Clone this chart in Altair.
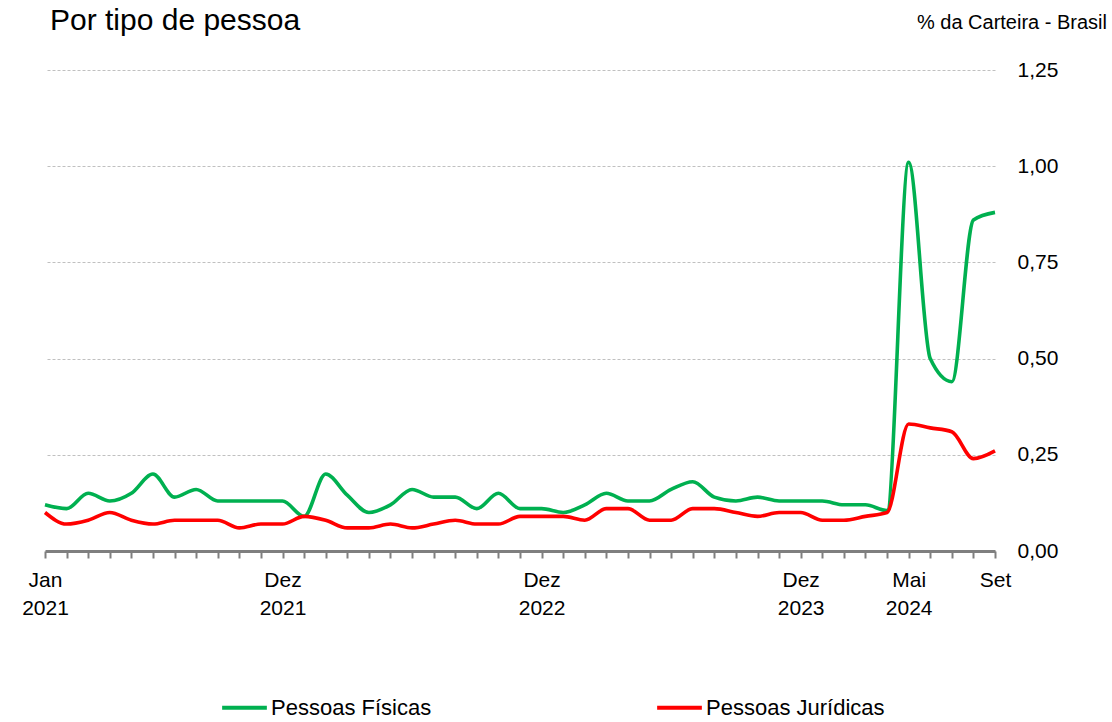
import altair as alt
import pandas as pd

# --- data -------------------------------------------------------------
pf = [0.12, 0.11, 0.15, 0.13, 0.15, 0.20, 0.14, 0.16, 0.13, 0.13, 0.13, 0.13,
      0.09, 0.20, 0.145, 0.10, 0.12, 0.16, 0.14, 0.14, 0.11, 0.15, 0.11, 0.11,
      0.10, 0.12, 0.15, 0.13, 0.13, 0.16, 0.18, 0.14, 0.13, 0.14, 0.13, 0.13,
      0.13, 0.12, 0.12, 0.105, 1.01, 0.50, 0.44, 0.86, 0.88]
pj = [0.10, 0.07, 0.08, 0.10, 0.08, 0.07, 0.08, 0.08, 0.08, 0.06, 0.07, 0.07,
      0.09, 0.08, 0.06, 0.06, 0.07, 0.06, 0.07, 0.08, 0.07, 0.07, 0.09, 0.09,
      0.09, 0.08, 0.11, 0.11, 0.08, 0.08, 0.11, 0.11, 0.10, 0.09, 0.10, 0.10,
      0.08, 0.08, 0.09, 0.10, 0.33, 0.32, 0.31, 0.24, 0.26]
series_names = ["Pessoas Físicas", "Pessoas Jurídicas"]
series_colors = ["#00b050", "#ff0000"]

tick_pos = [0, 11, 23, 35, 40, 44]
tick_month = ["Jan", "Dez", "Dez", "Dez", "Mai", "Set"]
tick_year = ["2021", "2021", "2022", "2023", "2024", ""]
y_ticks = [0, 0.25, 0.5, 0.75, 1.0, 1.25]

TITLE = "Por tipo de pessoa"
SUBTITLE = "% da Carteira - Brasil"

# --- build table --------------------------------------------------------
rows = []
for i, v in enumerate(pf):
    rows.append({"m": i, "v": v, "s": series_names[0]})
for i, v in enumerate(pj):
    rows.append({"m": i, "v": v, "s": series_names[1]})
df = pd.DataFrame(rows)

parts = []
for p, mo, yr in zip(tick_pos, tick_month, tick_year):
    arr = f"['{mo}','{yr}']" if yr else f"['{mo}']"
    parts.append(f"datum.value == {p} ? {arr}")
label_expr = " : ".join(parts) + " : ''"

FONT = "Liberation Sans"

lines = alt.Chart(df).mark_line(interpolate="monotone", strokeWidth=3.6).encode(
    x=alt.X("m:Q", scale=alt.Scale(domain=[0, len(pf) - 1], nice=False, zero=False),
            axis=alt.Axis(values=list(range(len(pf))), labelExpr=label_expr,
                          title=None, labelOverlap=False, grid=False,
                          domainColor="#7f7f7f", domainWidth=3,
                          tickColor="#7f7f7f", tickWidth=2, tickSize=7,
                          labelFont=FONT, labelFontSize=21, labelColor="#000000",
                          labelLineHeight=28, labelPadding=11, labelFlush=False)),
    y=alt.Y("v:Q", scale=alt.Scale(domain=[0, 1.25], nice=False),
            axis=alt.Axis(orient="right", values=y_ticks, title=None,
                          labelExpr="replace(format(datum.value, '.2f'), '.', ',')",
                          domain=False, ticks=False, grid=True,
                          gridColor="#c0c0c0", gridDash=[3, 2], gridWidth=1,
                          labelFont=FONT, labelFontSize=21, labelColor="#000000",
                          labelPadding=22, labelAlign="left")),
    color=alt.Color("s:N", scale=alt.Scale(domain=series_names, range=series_colors),
                    legend=alt.Legend(orient="none", legendX=175, legendY=613,
                                      direction="horizontal", title=None,
                                      symbolType="stroke", symbolSize=2000,
                                      symbolStrokeWidth=4, labelFont=FONT,
                                      labelFontSize=22, labelColor="#000000",
                                      labelOffset=2, columnPadding=217,
                                      labelLimit=400)),
)

title = alt.Chart(pd.DataFrame({"t": [TITLE]})).mark_text(
    align="left", baseline="alphabetic", font=FONT, fontSize=30, color="#000000"
).encode(text="t:N", x=alt.value(5), y=alt.value(-40))

subtitle = alt.Chart(pd.DataFrame({"t": [SUBTITLE]})).mark_text(
    align="right", baseline="alphabetic", font=FONT, fontSize=20, color="#000000"
).encode(text="t:N", x=alt.value(1062), y=alt.value(-41))

chart = alt.layer(lines, title, subtitle).properties(
    width=950, height=481,
    autosize=alt.AutoSizeParams(type="none"),
    padding={"left": 45, "top": 70, "right": 117, "bottom": 171},
    background="white",
).configure_view(stroke=None)

chart.save("out.html", embed_options={"renderer": "svg", "actions": False})
